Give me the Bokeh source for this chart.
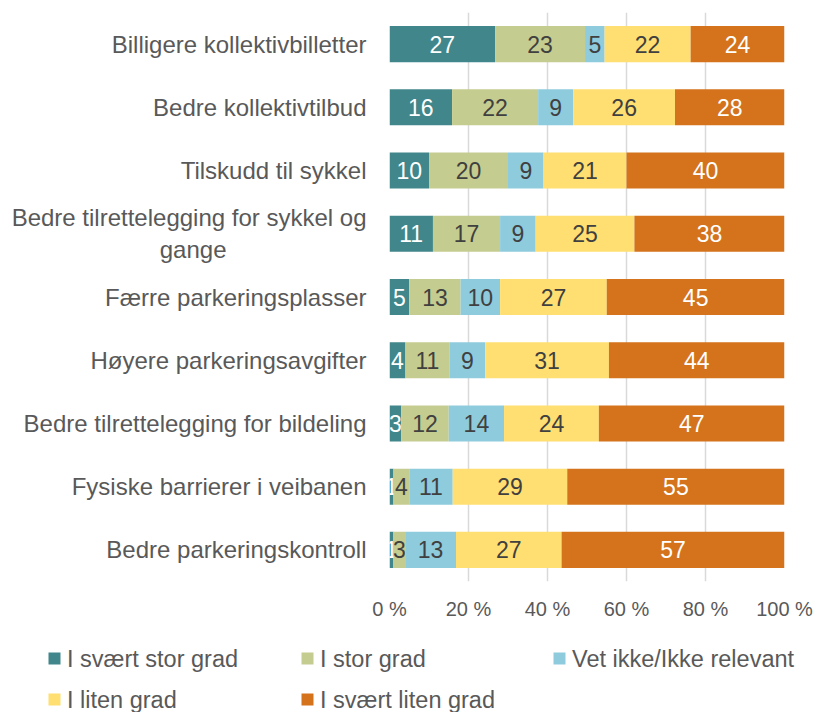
from bokeh.plotting import figure
from bokeh.models import Range1d, FixedTicker, ColumnDataSource
from bokeh.layouts import column
from bokeh.embed import file_html
from bokeh.resources import INLINE
from bokeh.core.properties import value

# ---------------- data ----------------
categories = [
    "Billigere kollektivbilletter",
    "Bedre kollektivtilbud",
    "Tilskudd til sykkel",
    "Bedre tilrettelegging for sykkel og\ngange" + "\u00a0" * 21,
    "Færre parkeringsplasser",
    "Høyere parkeringsavgifter",
    "Bedre tilrettelegging for bildeling",
    "Fysiske barrierer i veibanen",
    "Bedre parkeringskontroll",
]
series_names = ["I svært stor grad", "I stor grad", "Vet ikke/Ikke relevant",
                "I liten grad", "I svært liten grad"]
svaert_stor = [27, 16, 10, 11, 5, 4, 3, 1, 1]
stor = [23, 22, 20, 17, 13, 11, 12, 4, 3]
vet_ikke = [5, 9, 9, 9, 10, 9, 14, 11, 13]
liten = [22, 26, 21, 25, 27, 31, 24, 29, 27]
svaert_liten = [24, 28, 40, 38, 45, 44, 47, 55, 57]
series = [svaert_stor, stor, vet_ikke, liten, svaert_liten]
tick_values = [0, 20, 40, 60, 80, 100]
tick_labels = ["0 %", "20 %", "40 %", "60 %", "80 %", "100 %"]

# ---------------- style ----------------
colors = ["#40868A", "#C5CC8F", "#8ECBDD", "#FFDF71", "#D4731C"]
label_colors = ["#FFFFFF", "#404040", "#404040", "#404040", "#FFFFFF"]
FONT = "Liberation Sans"
GREY = "#595959"

n = len(categories)
ypos = [n - 1 - i for i in range(n)]
totals = [sum(v) for v in zip(*series)]

p = figure(width=814, height=630, x_range=Range1d(0, 100),
           y_range=Range1d(-0.5, n - 0.5), output_backend="svg",
           toolbar_location=None, min_border_left=389, min_border_right=30,
           min_border_top=12, min_border_bottom=49)
p.frame_align = False
p.outline_line_color = None
p.ygrid.visible = False
p.xgrid.grid_line_color = "#D9D9D9"
p.xgrid.grid_line_width = 1.5

p.xaxis.ticker = FixedTicker(ticks=tick_values)
p.xaxis.major_label_overrides = {v: l for v, l in zip(tick_values, tick_labels)}
p.yaxis.ticker = FixedTicker(ticks=ypos)
p.yaxis.major_label_overrides = {y: c for y, c in zip(ypos, categories)}
for ax in (p.xaxis, p.yaxis):
    ax.axis_line_color = None
    ax.major_tick_line_color = None
    ax.minor_tick_line_color = None
    ax.major_label_text_font = FONT
    ax.major_label_text_color = GREY
p.xaxis.major_label_text_font_size = "20px"
p.yaxis.major_label_text_font_size = "24px"
p.xaxis.major_label_standoff = 10
p.yaxis.major_label_standoff = 17

cum = [0.0] * n
for vals, col, lcol in zip(series, colors, label_colors):
    lefts = cum[:]
    rights = [c + 100.0 * v / t for c, v, t in zip(cum, vals, totals)]
    cum = rights
    src = ColumnDataSource(dict(y=ypos, left=lefts, right=rights,
                                xc=[(a + b) / 2 for a, b in zip(lefts, rights)],
                                txt=[str(v) for v in vals]))
    p.hbar(y="y", left="left", right="right", height=0.57, source=src,
           fill_color=col, line_color=None)
    p.text(x="xc", y="y", text="txt", source=src, text_align="center",
           text_baseline="middle", text_color=lcol, text_font=value(FONT),
           text_font_size="23px")

# ---------------- legend (separate strip, pixel coordinates) ----------------
leg = figure(width=814, height=82, x_range=Range1d(0, 814),
             y_range=Range1d(82, 0), output_backend="svg",
             toolbar_location=None, min_border=0)
leg.frame_align = False
leg.axis.visible = False
leg.grid.visible = False
leg.outline_line_color = None
leg_x = [54, 307, 559, 54, 307]
leg_y = [28, 28, 28, 69, 69]
leg.rect(x=leg_x, y=leg_y, width=12, height=12, fill_color=colors,
         line_color=None)
leg.text(x=[x + 12.5 for x in leg_x], y=leg_y, text=series_names,
         text_align="left", text_baseline="middle", text_color=GREY,
         text_font=value(FONT), text_font_size="23.5px")

layout = column(p, leg, spacing=0)
open("out.html", "w").write(file_html(layout, INLINE))
